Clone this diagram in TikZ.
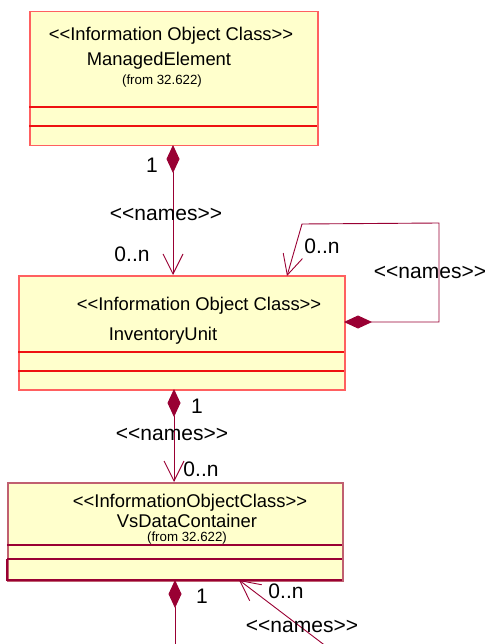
\documentclass[tikz,border=0pt]{standalone}
\usepackage{fontspec}
\setmainfont{Liberation Sans}[Ligatures=TeXOff]
\usetikzlibrary{arrows.meta,calc}
\definecolor{boxfill}{HTML}{FFFFCC}
\definecolor{boxline}{HTML}{FF6060}
\definecolor{divline}{HTML}{EE1111}
\definecolor{maroon}{HTML}{990033}
\definecolor{boxlinethree}{HTML}{C06070}
\tikzset{
  classbox/.style={draw=boxline, fill=boxfill, line width=1.5pt, rectangle, anchor=north west, inner sep=0pt},
  divider/.style={draw=divline, line width=1.2pt},
  clsname/.style={font=\fontsize{18.4}{22}\selectfont, anchor=base, inner sep=0pt},
  fromtxt/.style={font=\fontsize{13.3}{16}\selectfont, anchor=base, inner sep=0pt},
  lbl/.style={font=\fontsize{21}{25}\selectfont, anchor=base, inner sep=0pt},
  assoc/.style={draw=maroon, line width=0.9pt,
    {Diamond[length=28pt,width=13pt,fill=maroon]}-{Straight Barb[length=20pt,width=20pt,line width=0.9pt]}},
  assocdia/.style={draw=maroon, line width=0.9pt, {Diamond[length=28pt,width=13pt,fill=maroon]}-},
  assocarr/.style={draw=maroon, line width=0.9pt, -{Straight Barb[length=20pt,width=20pt,line width=0.9pt]}}
}
\begin{document}
\begin{tikzpicture}[x=1pt,y=-1pt]
\useasboundingbox (0,0) rectangle (487,644);
% Box 1
\node[classbox, minimum width=288pt, minimum height=134pt] (b1) at (29,11) {};
\draw[divider] (29,107) -- (317,107);
\draw[divider] (29,126) -- (317,126);
\node[clsname] (b1s) at (171,41) {<<Information Object Class>>};
\node[clsname] (b1n) at (159,66) {ManagedElement};
\node[fromtxt] (b1f) at (162,84.5) {(from 32.622)};
% Box 2
\node[classbox, minimum width=326pt, minimum height=114pt] (b2) at (18,275) {};
\draw[divider] (18,352) -- (344,352);
\draw[divider] (18,371) -- (344,371);
\node[clsname] (b2s) at (199,310) {<<Information Object Class>>};
\node[clsname] (b2n) at (163,340) {InventoryUnit};
% Box 3
\node[classbox, draw=boxlinethree, minimum width=335pt, minimum height=98pt] (b3) at (7,482) {};
\draw[draw=maroon, line width=1.2pt] (7,545) -- (342,545);
\draw[draw=maroon, line width=1.2pt] (7,559) -- (342,559);
\draw[draw=maroon, line width=1.6pt] (7,559) -- (7,580) -- (342,580);
\node[clsname] (b3s) at (190,507) {<<InformationObjectClass>>};
\node[clsname] (b3n) at (187,527) {VsDataContainer};
\node[fromtxt] (b3f) at (187,541) {(from 32.622)};
% Connector 1: ManagedElement -> InventoryUnit
\coordinate (c1s) at (173,145);
\coordinate (c1e) at (173,275);
\draw[assoc] (c1s) -- (c1e);
\node[lbl] (l1a) at (152,173) {1};
\node[lbl] (l1b) at (166,220) {<<names>>};
\node[lbl] (l1c) at (132,261) {0..n};
% Self loop on InventoryUnit
\coordinate (c2s) at (344,322);
\coordinate (c2a) at (439,322);
\coordinate (c2b) at (439,223);
\coordinate (c2c) at (302,224);
\coordinate (c2e) at (287,276);
\draw[assoc] (c2s) -- (c2a) -- (c2b) -- (c2c) -- (c2e);
\node[lbl] (l2a) at (322,253) {0..n};
\node[lbl] (l2b) at (430,278) {<<names>>};
% Connector 3: InventoryUnit -> VsDataContainer
\coordinate (c3s) at (174,389);
\coordinate (c3e) at (174,482);
\draw[assoc] (c3s) -- (c3e);
\node[lbl] (l3a) at (197,413) {1};
\node[lbl] (l3b) at (172,440) {<<names>>};
\node[lbl] (l3c) at (201,476) {0..n};
% Connectors below VsDataContainer
\coordinate (c4s) at (175,580);
\coordinate (c4e) at (175,650);
\draw[assocdia] (c4s) -- (c4e);
\node[lbl] (l4a) at (202,603) {1};
\coordinate (c5s) at (331,650);
\coordinate (c5e) at (239,580);
\draw[assocarr] (c5s) -- (c5e);
\node[lbl] (l5a) at (286,598) {0..n};
\node[lbl] (l5b) at (302,632) {<<names>>};
\end{tikzpicture}
\end{document}
